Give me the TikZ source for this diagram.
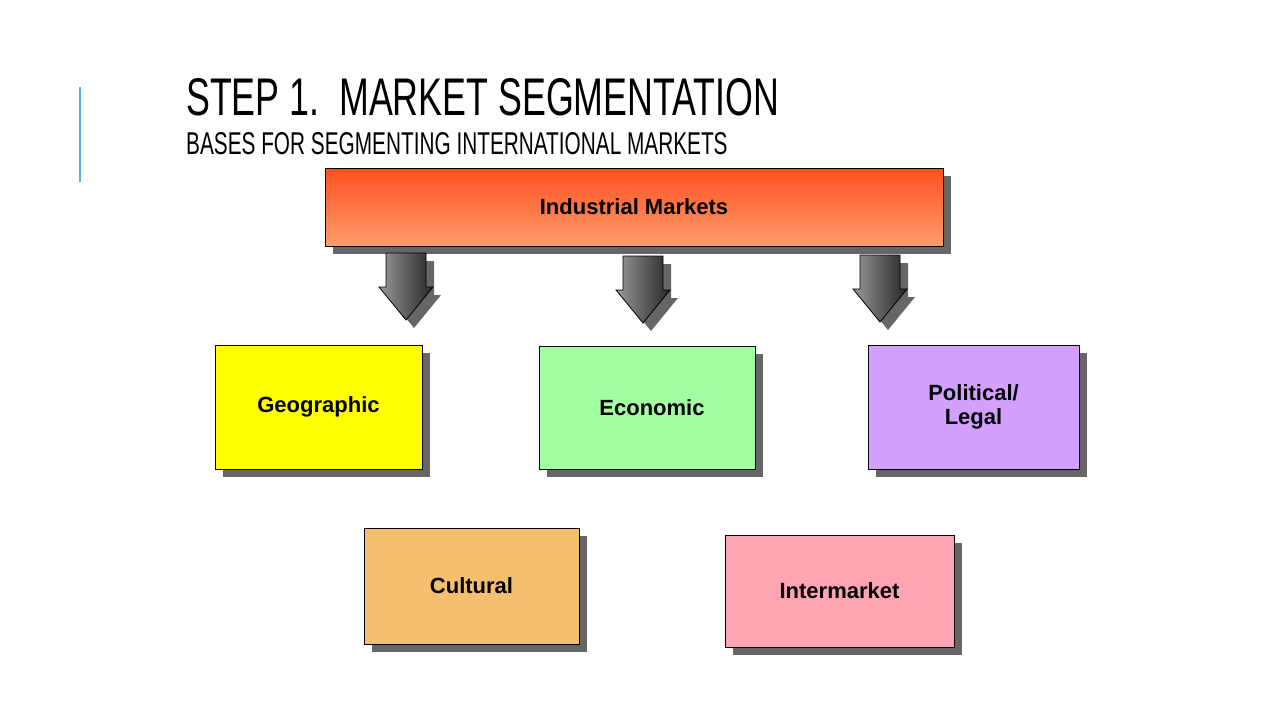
\documentclass[tikz,border=0pt]{standalone}
\usepackage{fontspec}
\setmainfont{Liberation Sans}
\newfontfamily\titlefont[FakeStretch=0.675]{Liberation Sans}
\newfontfamily\subtitlefont[FakeStretch=0.66]{Liberation Sans}
\usepackage{tikz}
\usetikzlibrary{shadows}

\definecolor{accentline}{HTML}{55B9D2}
\definecolor{shadowgray}{HTML}{666666}
\definecolor{indtop}{HTML}{FF5020}
\definecolor{indbottom}{HTML}{FF9C6C}
\definecolor{geoyellow}{HTML}{FFFF00}
\definecolor{ecogreen}{HTML}{A2FFA2}
\definecolor{polviolet}{HTML}{D4A0FF}
\definecolor{culorange}{HTML}{F4C06E}
\definecolor{interpink}{HTML}{FFA4B2}

\begin{document}
\begin{tikzpicture}[x=1pt, y=-1pt,
    box/.style = {draw, line width=0.8pt, font=\fontsize{22}{24}\selectfont\bfseries, align=center,
                  drop shadow={shadow xshift=8pt, shadow yshift=-8pt, fill=shadowgray, opacity=1}},
    blockarrow/.style = {draw, line width=0.8pt, left color=black!40, right color=black!85}]

        \useasboundingbox (0,0) rectangle (1280,720);

        % title
        \draw[accentline, line width=2pt] (80,87) -- (80,182);
        \node[anchor=base west, inner sep=0pt, font=\titlefont\fontsize{53}{60}\selectfont] (title) at (186,115) {STEP 1.\ \ MARKET SEGMENTATION};
        \node[anchor=base west, inner sep=0pt, font=\subtitlefont\fontsize{31.5}{36}\selectfont] (subtitle) at (186,154) {BASES FOR SEGMENTING INTERNATIONAL MARKETS};

        % top box
        \node[box, top color=indtop, bottom color=indbottom, minimum width=618pt, minimum height=78pt] (ind) at (634,207) {Industrial Markets};

        % arrows below the top box
        \foreach \ax/\ay in {406/253, 643/256, 880/255} {
            \fill[shadowgray] (\ax-12,\ay+8) -- (\ax+28,\ay+8) -- (\ax+28,\ay+42) -- (\ax+35,\ay+42) -- (\ax+8,\ay+75) -- (\ax-19,\ay+42) -- (\ax-12,\ay+42) -- cycle;
            \draw[blockarrow] (\ax-20,\ay) -- (\ax+20,\ay) -- (\ax+20,\ay+34) -- (\ax+27,\ay+34) -- (\ax,\ay+67) -- (\ax-27,\ay+34) -- (\ax-20,\ay+34) -- cycle;
        }

        % bases
        \node[box, fill=geoyellow, minimum width=207pt, minimum height=124pt] (geo) at (318.5,407) {Geographic};
        \node[box, fill=ecogreen, minimum width=216pt, minimum height=123pt] (eco) at (647,407.5) {\hspace{10pt}Economic};
        \node[box, fill=polviolet, minimum width=211pt, minimum height=124pt] (pol) at (973.5,407) {Political/\\Legal};
        \node[box, fill=culorange, minimum width=215pt, minimum height=116pt] (cul) at (471.5,586) {Cultural};
        \node[box, fill=interpink, minimum width=229pt, minimum height=112pt] (inter) at (839.5,591) {Intermarket};
    \end{tikzpicture}
\end{document}
